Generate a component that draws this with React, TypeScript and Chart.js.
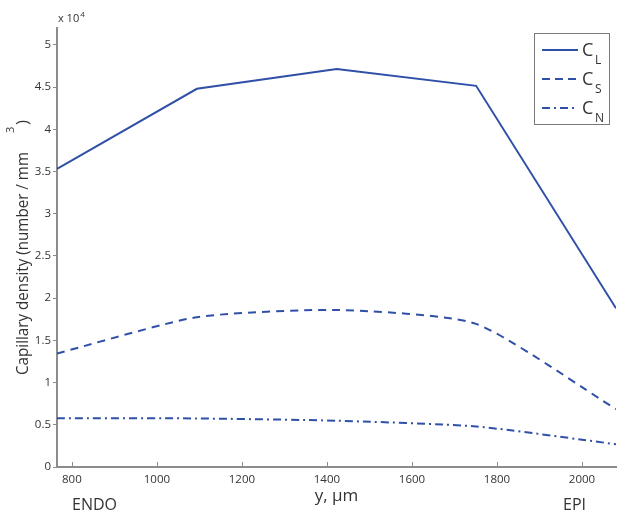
import React, { useEffect, useRef } from "react";
import { Chart, registerables } from "chart.js";

Chart.register(...registerables);

const xValues = [765, 1094, 1423, 1751, 2080];
const cL = [35300, 44800, 47150, 45150, 18800];
const cS = [13450, 17750, 18600, 16950, 6850];
const cN = [5780, 5750, 5480, 4800, 2700];
const xTicks = [800, 1000, 1200, 1400, 1600, 1800, 2000];
const yTicks = [0, 5000, 10000, 15000, 20000, 25000, 30000, 35000, 40000, 45000, 50000];
const legendNames = ["L", "S", "N"];
const yTitleMain = "Capillary density (number / mm";
const yTitleSup = "3";
const yTitleEnd = ")";

const BLUE = "#3050a8";
const TEXT = "#333333";
const AXIS = "#8c8c8c";
const FONT = "'Open Sans', sans-serif";

const overlay = {
  id: "overlay",
  afterDraw(chart: any) {
    const ctx = chart.ctx;
    const area = chart.chartArea;
    const xs = chart.scales.x;
    ctx.save();
    // inward x ticks
    ctx.strokeStyle = AXIS;
    ctx.lineWidth = 1;
    xTicks.forEach((v) => {
      const px = Math.round(xs.getPixelForValue(v)) + 0.5;
      ctx.beginPath();
      ctx.moveTo(px, area.bottom);
      ctx.lineTo(px, area.bottom - 5);
      ctx.stroke();
    });
    // x 10^4
    ctx.fillStyle = TEXT;
    ctx.textBaseline = "alphabetic";
    ctx.textAlign = "left";
    ctx.font = `11px ${FONT}`;
    ctx.fillText("x 10", area.left + 1, area.top - 6);
    const w = ctx.measureText("x 10").width;
    ctx.font = `8px ${FONT}`;
    ctx.fillText("4", area.left + 2 + w, area.top - 11);
    // ENDO / EPI
    ctx.font = `16px ${FONT}`;
    ctx.fillText("ENDO", 72, 510);
    ctx.fillText("EPI", 563, 510);
    // y title
    ctx.save();
    ctx.translate(28, 375);
    ctx.rotate(-Math.PI / 2);
    ctx.font = `17px ${FONT}`;
    const mw = ctx.measureText(yTitleMain).width;
    const sx = 223 / mw;
    ctx.save();
    ctx.scale(sx, 1);
    ctx.fillText(yTitleMain, 0, 0);
    ctx.restore();
    ctx.font = `11px ${FONT}`;
    ctx.fillText(yTitleSup, 242, -14);
    ctx.font = `17px ${FONT}`;
    ctx.fillText(yTitleEnd, 250, 0);
    ctx.restore();
    // legend
    const bx = 534.5, by = 33.5, bw = 75, bh = 91;
    ctx.fillStyle = "#ffffff";
    ctx.fillRect(bx, by, bw, bh);
    ctx.strokeStyle = "#7a7a7a";
    ctx.lineWidth = 1;
    ctx.strokeRect(bx, by, bw, bh);
    const dashes = [[], [8, 5], [8, 4, 2, 4]];
    chart.data.datasets.forEach((ds: any, i: number) => {
      const y = 50 + i * 29;
      ctx.strokeStyle = BLUE;
      ctx.lineWidth = 2;
      ctx.setLineDash(dashes[i]);
      ctx.beginPath();
      ctx.moveTo(542, y);
      ctx.lineTo(578, y);
      ctx.stroke();
      ctx.setLineDash([]);
      ctx.fillStyle = TEXT;
      ctx.font = `18px ${FONT}`;
      ctx.fillText("C", 582, y + 6);
      ctx.font = `12px ${FONT}`;
      ctx.fillText(legendNames[i], 595, y + 14);
    });
    ctx.restore();
  },
};

export default function App() {
  const ref = useRef<HTMLCanvasElement>(null);
  useEffect(() => {
    const mk = (data: number[]) => data.map((y, i) => ({ x: xValues[i], y }));
    const chart = new Chart(ref.current!, {
      type: "line",
      data: {
        datasets: [
          { label: "CL", data: mk(cL), borderColor: BLUE, borderWidth: 2, pointRadius: 0, tension: 0 },
          { label: "CS", data: mk(cS), borderColor: BLUE, borderWidth: 2, pointRadius: 0, tension: 0.2, borderDash: [8, 6] },
          { label: "CN", data: mk(cN), borderColor: BLUE, borderWidth: 2, pointRadius: 0, tension: 0.2, borderDash: [8, 4, 2, 4] },
        ],
      },
      options: {
        animation: false,
        responsive: false,
        layout: { padding: { top: 28, right: 9, left: 0, bottom: 0 } },
        plugins: { legend: { display: false }, tooltip: { enabled: false } },
        scales: {
          x: {
            type: "linear",
            min: 765,
            max: 2080,
            afterBuildTicks: (s: any) => { s.ticks = xTicks.map((v) => ({ value: v })); },
            afterFit: (s: any) => { s.height = 51; },
            grid: { display: true, drawOnChartArea: false, drawTicks: false },
            border: { display: true, color: AXIS, width: 2 },
            ticks: { color: TEXT, font: { family: FONT, size: 11.5 }, padding: 6, maxRotation: 0, autoSkip: false, callback: (v: any) => String(v) },
            title: { display: true, text: "y, μm", color: TEXT, font: { family: FONT, size: 17 }, padding: { top: 0, bottom: 12 } },
          },
          y: {
            type: "linear",
            min: 0,
            max: 52000,
            afterBuildTicks: (s: any) => { s.ticks = yTicks.map((v) => ({ value: v })); },
            afterFit: (s: any) => { s.width = 57; },
            grid: { display: true, drawOnChartArea: false, drawTicks: true, tickLength: 4, color: AXIS },
            border: { display: true, color: AXIS, width: 2 },
            ticks: { color: TEXT, font: { family: FONT, size: 11.5 }, padding: 2, callback: (v: any) => String(v / 10000) },
            title: { display: false },
          },
        },
      },
      plugins: [overlay],
    });
    return () => chart.destroy();
  }, []);
  return (
    <div style={{ position: "fixed", left: 0, top: 0, width: 625, height: 518, background: "#fff" }}>
      <canvas ref={ref} width={625} height={518} />
    </div>
  );
}
